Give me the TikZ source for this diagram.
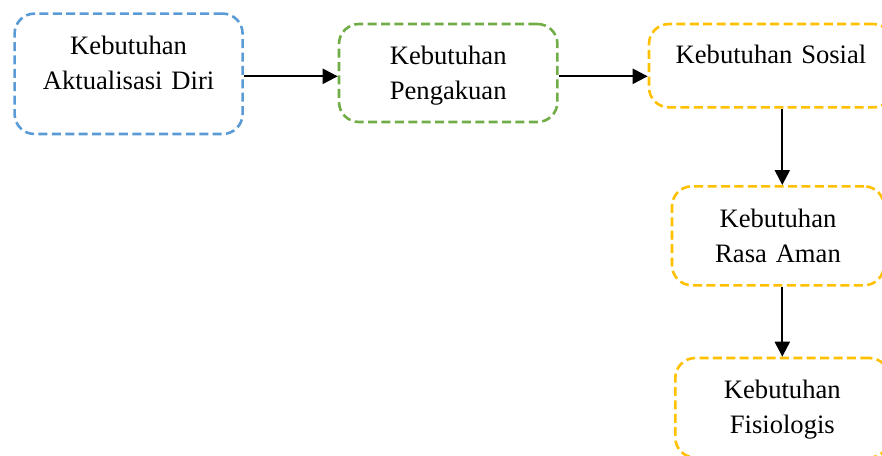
\documentclass[tikz,border=0pt]{standalone}
\usepackage{fontspec}
\setmainfont{Liberation Serif}
\usetikzlibrary{arrows.meta}

\definecolor{kebiru}{RGB}{91,155,213}
\definecolor{kehijau}{RGB}{112,173,71}
\definecolor{kekuning}{RGB}{255,192,0}

\begin{document}
\begin{tikzpicture}[x=0.5pt,y=0.5pt,>={Triangle[length=7.5pt,width=7.5pt]},
    need/.style={draw,line width=1.3pt,dash pattern=on 4.5pt off 2.2pt,rounded corners=10pt,
        inner sep=0pt,align=center,anchor=north west,font=\fontsize{13.3}{17.5}\selectfont},
    arrow/.style={->,line width=1.1pt}]
    \useasboundingbox (0,0) rectangle (882,-455);
    \node[need,draw=kebiru,text width=114pt,text height=20.5pt,text depth=39.7pt] (aktualisasi) at (13.3,-12.3) {Kebutuhan\\Aktualisasi Diri};
    \node[need,draw=kehijau,text width=109.2pt,text height=20.3pt,text depth=28.7pt] (pengakuan) at (337.7,-22.7) {Kebutuhan\\Pengakuan};
    \node[need,draw=kekuning,text width=122pt,text height=19.5pt,text depth=22.2pt] (sosial) at (647.7,-22.7) {Kebutuhan Sosial};
    \node[need,draw=kekuning,text width=106pt,text height=20.5pt,text depth=29pt] (rasa) at (670.7,-185) {Kebutuhan\\Rasa Aman};
    \node[need,draw=kekuning,text width=107pt,text height=20.3pt,text depth=29.5pt] (fisiologis) at (674,-356.7) {Kebutuhan\\Fisiologis};
    \draw[arrow] ([yshift=-1.25pt]aktualisasi.east) -- ([yshift=-1.25pt]aktualisasi.east -| pengakuan.west);
    \draw[arrow] ([yshift=-1.65pt]pengakuan.east) -- ([yshift=-1.65pt]pengakuan.east -| sosial.west);
    \draw[arrow] (fisiologis.north |- sosial.south) -- (fisiologis.north |- rasa.north);
    \draw[arrow] (fisiologis.north |- rasa.south) -- (fisiologis.north);
\end{tikzpicture}
\end{document}
